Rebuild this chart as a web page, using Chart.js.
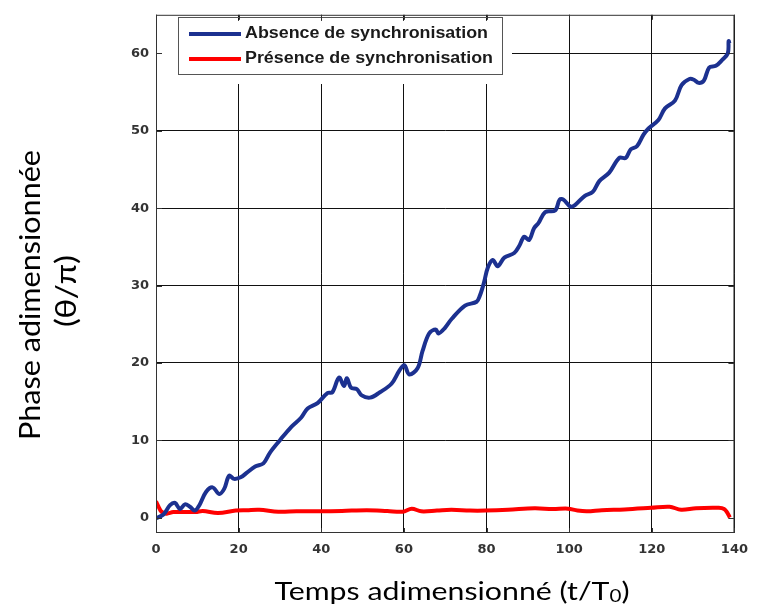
<!DOCTYPE html>
<html lang="fr">
  <head>
    <title>Phase adimensionnée</title>
    <meta charset="utf-8">
    <script src="https://cdn.jsdelivr.net/npm/chart.js@4.4.0/dist/chart.umd.min.js"></script>
    <style>
      html, body { margin: 0; padding: 0; background: #fff; }
      #wrap { position: relative; width: 757px; height: 613px; }
    </style>
  </head>
  <body>
    <div id="wrap"><canvas id="myChart"></canvas></div>
  </body>
  <script>
    // valeurs
    var tAbsence = [0, 1.8, 3.4, 4.6, 5.8, 7, 8.2, 9.4, 10.5, 12.1, 13.7, 15.3, 16.5, 17.7, 18.9, 20.5, 22, 24, 26, 27.6,
      30, 32.7, 35.1, 36.7, 39.1, 41.5, 42.7, 44.3, 45.5, 46.2, 47.2, 48.6, 49.8, 51.8, 54.2, 57, 58.9, 60.1, 61.3, 63.3,
      64.5, 66.1, 67.7, 68.4, 69.9, 71.6, 74.8, 77.6, 78.4, 79.4, 80.3, 81.5, 82.7, 84.3, 86.7, 87.9, 89.1, 90.3, 91.5, 92.6,
      94.2, 96.6, 97.7, 98.6, 100.3, 101.4, 103.8, 105.7, 107.3, 109.7, 112.1, 113.7, 114.9, 116.4, 118, 119.2, 121.6, 123.2,
      125.6, 127.2, 129.1, 130.2, 131.3, 132.6, 133.9, 135.5, 137.1, 138.4, 138.6, 138.8];
    var phaseAbsence = [-0.1, 0.4, 1.6, 1.9, 1.1, 1.7, 1.4, 0.9, 1.6, 3.3, 3.9, 3.05, 3.7, 5.4, 5.0, 5.2, 5.8, 6.6, 7.0, 8.4,
      10.0, 11.7, 12.9, 14.1, 14.8, 16.1, 16.2, 18.1, 17.0, 18.0, 16.8, 16.6, 15.8, 15.5, 16.2, 17.3, 19.0, 19.7, 18.5, 19.3,
      21.5, 23.8, 24.3, 23.8, 24.5, 25.7, 27.4, 27.9, 28.7, 30.4, 32.3, 33.3, 32.5, 33.6, 34.2, 35.1, 36.3, 35.9, 37.4, 38.1,
      39.5, 39.7, 41.1, 41.1, 40.2, 40.4, 41.6, 42.1, 43.5, 44.6, 46.5, 46.5, 47.6, 48.0, 49.5, 50.3, 51.4, 52.9,
      53.9, 55.9, 56.7, 56.6, 56.2, 56.5, 58.2, 58.4, 59.2, 60.0, 61.6, 61.3];

    var tPresence = [0, 1.1, 1.8, 2.6, 4.2, 9.6, 11.3, 15, 19.3, 22, 25, 29.6, 34, 39.6, 45, 51, 56, 59.7, 61.9, 64.2,
      68, 71.5, 76, 79.7, 85.2, 91.6, 96, 99.7, 102, 104.3, 107.9, 113.4, 119.8, 124.3, 127.1, 130.7, 136.2, 137.5, 138.3, 138.9];
    var phasePresence = [2.1, 0.9, 0.6, 0.5, 0.7, 0.72, 0.85, 0.6, 0.9, 0.95, 1.0, 0.75, 0.8, 0.8, 0.85, 0.95, 0.85, 0.75, 1.15, 0.8,
      0.9, 1.0, 0.9, 0.9, 1.0, 1.2, 1.1, 1.15, 0.9, 0.8, 0.95, 1.05, 1.25, 1.4, 1.0, 1.2, 1.25, 1.1, 0.6, 0.0];

    var xTicks = [0, 20, 40, 60, 80, 100, 120, 140];
    var yTicks = [0, 10, 20, 30, 40, 50, 60];

    var labelAbsence = 'Absence de synchronisation';
    var labelPresence = 'Présence de synchronisation';

    function toPoints(xs, ys) {
      return xs.map(function (x, i) { return { x: x, y: ys[i] }; });
    }

    // texte étiré horizontalement pour tenir dans une largeur donnée
    function drawFitted(ctx, parts, x, y, width, align) {
      var total = 0;
      parts.forEach(function (p) { ctx.font = p.font; p.w = ctx.measureText(p.text).width; total += p.w; });
      var sx = width / total;
      ctx.save();
      ctx.translate(x, y);
      ctx.scale(sx, 1);
      ctx.textAlign = 'left';
      ctx.textBaseline = 'middle';
      var cx = align === 'center' ? -total / 2 : 0;
      parts.forEach(function (p) { ctx.font = p.font; ctx.fillText(p.text, cx, p.dy || 0); cx += p.w; });
      ctx.restore();
    }

    var habillage = {
      id: 'habillage',
      afterDraw: function (chart) {
        var ctx = chart.ctx, a = chart.chartArea;
        var xs = chart.scales.x, ys = chart.scales.y;
        ctx.save();

        // fond blanc de la légende
        ctx.fillStyle = '#fff';
        ctx.fillRect(a.left + 1, a.top + 6, 511 - a.left, 84 - a.top - 6);
        ctx.strokeStyle = '#555';
        ctx.lineWidth = 1;
        ctx.strokeRect(178.5, 17.5, 324, 57);

        var ds = chart.data.datasets;
        var rows = [34, 59];
        ds.forEach(function (d, i) {
          ctx.strokeStyle = d.borderColor;
          ctx.lineWidth = 4;
          ctx.beginPath();
          ctx.moveTo(189, rows[i]);
          ctx.lineTo(241, rows[i]);
          ctx.stroke();
          ctx.fillStyle = '#1a1a1a';
          drawFitted(ctx, [{ text: d.label, font: 'bold 16px "Liberation Sans"' }], 245, rows[i], i === 0 ? 243 : 248, 'left');
        });

        // cadre et graduations intérieures
        ctx.strokeStyle = '#333';
        ctx.lineWidth = 1;
        ctx.strokeRect(a.left + 0.5, a.top + 0.5, a.right - a.left - 1, a.bottom - a.top - 1);
        ctx.beginPath();
        xTicks.forEach(function (v) {
          var px = Math.round(xs.getPixelForValue(v)) + 0.5;
          ctx.moveTo(px, a.top); ctx.lineTo(px, a.top + 5);
          ctx.moveTo(px, a.bottom); ctx.lineTo(px, a.bottom - 5);
        });
        yTicks.forEach(function (v) {
          var py = Math.round(ys.getPixelForValue(v)) + 0.5;
          ctx.moveTo(a.left, py); ctx.lineTo(a.left + 6, py);
          ctx.moveTo(a.right, py); ctx.lineTo(a.right - 6, py);
        });
        ctx.stroke();

        // titres des axes
        ctx.fillStyle = '#000';
        drawFitted(ctx, [
          { text: 'Temps adimensionné (t/T', font: '25px Lato' },
          { text: '0', font: '17px Lato', dy: 5 },
          { text: ')', font: '25px Lato' }
        ], 452, 592, 355, 'center');

        ctx.save();
        ctx.translate(31, 295);
        ctx.rotate(-Math.PI / 2);
        drawFitted(ctx, [{ text: 'Phase adimensionnée', font: '28px Lato' }], 0, 0, 290, 'center');
        ctx.restore();
        ctx.save();
        ctx.translate(67, 291);
        ctx.rotate(-Math.PI / 2);
        drawFitted(ctx, [{ text: '(θ/π)', font: '28px Lato, "Open Sans"' }], 0, 0, 72, 'center');
        ctx.restore();

        ctx.restore();
      }
    };

    var tickFont = { family: '"DejaVu Sans"', size: 13, weight: 'bold' };
    var gridColor = function (c) { return c.tick && c.tick.value === 0 ? 'rgba(0,0,0,0)' : '#111'; };

    var ctx = document.getElementById('myChart').getContext('2d');
    var myChart = new Chart(ctx, {
      type: 'line',
      data: {
        datasets: [{
          label: labelAbsence,
          data: toPoints(tAbsence, phaseAbsence),
          borderColor: '#1c3190',
          backgroundColor: '#1c3190',
          borderWidth: 4,
          pointRadius: 0,
          tension: 0.35,
          fill: false
        }, {
          label: labelPresence,
          data: toPoints(tPresence, phasePresence),
          borderColor: '#ff0000',
          backgroundColor: '#ff0000',
          borderWidth: 4,
          pointRadius: 0,
          tension: 0.35,
          fill: false
        }]
      },
      options: {
        responsive: true,
        maintainAspectRatio: false,
        animation: false,
        layout: { padding: { top: 8, right: 13, left: 0, bottom: 0 } },
        plugins: { legend: { display: false }, tooltip: { enabled: false } },
        scales: {
          x: {
            type: 'linear',
            min: 0,
            max: 140,
            afterBuildTicks: function (s) { s.ticks = xTicks.map(function (v) { return { value: v }; }); },
            afterFit: function (s) { s.height = 80; },
            ticks: { font: tickFont, color: '#333', padding: 9, maxRotation: 0 },
            grid: { color: '#111', lineWidth: 1, drawTicks: false },
            border: { display: false }
          },
          y: {
            min: -2,
            max: 65,
            afterBuildTicks: function (s) { s.ticks = yTicks.map(function (v) { return { value: v }; }); },
            afterFit: function (s) { s.width = 156; },
            ticks: { font: tickFont, color: '#333', padding: 7 },
            grid: { color: gridColor, lineWidth: 1, drawTicks: false },
            border: { display: false }
          }
        }
      },
      plugins: [habillage]
    });
  </script>
</html>
